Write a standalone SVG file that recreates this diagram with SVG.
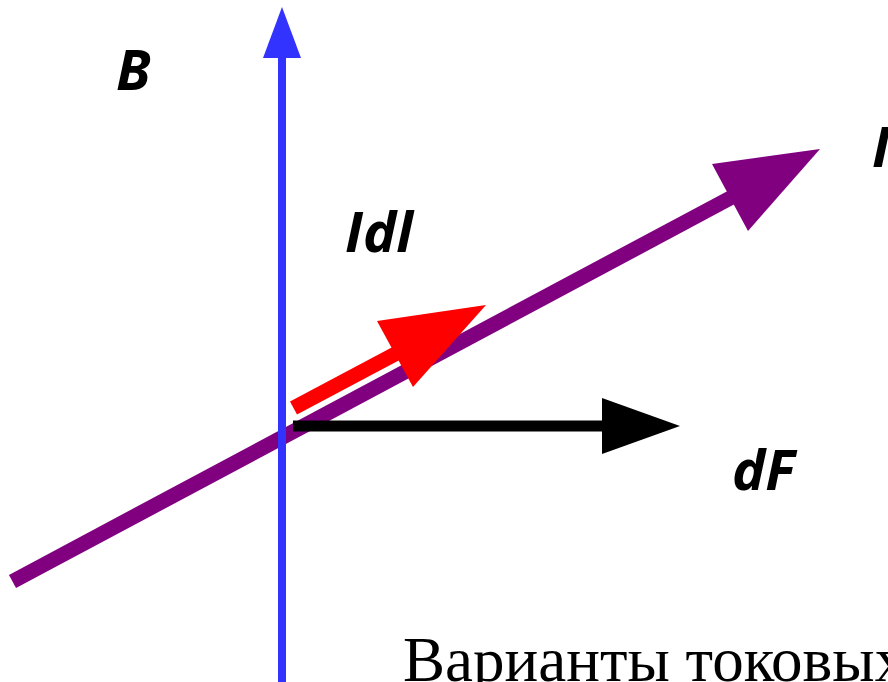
<svg xmlns="http://www.w3.org/2000/svg" width="888" height="682" viewBox="0 0 888 682">
<style>
.lbl{font-family:"Open Sans","DejaVu Sans",sans-serif;font-weight:bold;font-style:italic;font-size:56px;fill:#000}
.cap{font-family:"Liberation Serif","Times New Roman",serif;font-size:63px;fill:#000}
</style>
<rect width="888" height="682" fill="#fff"/>
<g id="connectors">
<g id="current-I">
<line x1="12.5" y1="581.5" x2="735" y2="195.5" stroke="#800080" stroke-width="15"/>
<polygon points="820,149 712,164 748,231" fill="#800080"/>
</g>
<g id="field-B">
<line x1="282" y1="682" x2="282" y2="56" stroke="#3333FF" stroke-width="8"/>
<polygon points="282,7 263,58 301,58" fill="#3333FF"/>
</g>
<g id="force-dF">
<line x1="293" y1="426" x2="604" y2="426" stroke="#000" stroke-width="11"/>
<polygon points="602,398 680,426 602,454" fill="#000"/>
</g>
<g id="element-Idl">
<line x1="293.5" y1="408" x2="398" y2="352.5" stroke="#FF0000" stroke-width="15"/>
<polygon points="486,305 377,321 413,387" fill="#FF0000"/>
</g>
</g>
<g id="label-B"><text class="lbl" x="116" y="90">B</text></g>
<g id="label-Idl"><text class="lbl" x="345" y="252">Idl</text></g>
<g id="label-I"><text class="lbl" x="872" y="167">I</text></g>
<g id="label-dF"><text class="lbl" x="732" y="490">dF</text></g>
<g id="caption"><text class="cap" x="403" y="681">Варианты токовых</text></g>
</svg>
